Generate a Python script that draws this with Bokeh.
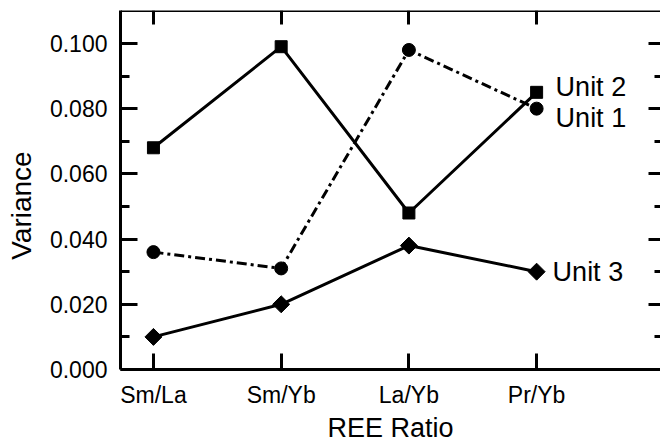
import math
from bokeh.plotting import figure
from bokeh.models import LinearAxis, FixedTicker, Range1d, CustomJSTickFormatter
from bokeh.core.properties import value
from bokeh.embed import file_html
from bokeh.resources import INLINE

categories = ["Sm/La", "Sm/Yb", "La/Yb", "Pr/Yb"]
unit1 = [0.036, 0.031, 0.098, 0.080]
unit2 = [0.068, 0.099, 0.048, 0.085]
unit3 = [0.010, 0.020, 0.038, 0.030]
y_ticks = [0.000, 0.020, 0.040, 0.060, 0.080, 0.100]
y_minor = [0.010, 0.030, 0.050, 0.070, 0.090]
series_names = ["Unit 2", "Unit 1", "Unit 3"]
x_title = "REE Ratio"
y_title = "Variance"

xs = list(range(len(categories)))
FONT = "Liberation Sans"
X0, X1 = -0.258, 3.970
Y0, Y1 = 0.0, 0.1101

p = figure(width=660, height=445, output_backend="svg", toolbar_location=None,
           x_range=Range1d(X0, X1), y_range=Range1d(Y0, Y1),
           x_axis_location=None, y_axis_location=None,
           min_border_left=120, min_border_right=0, min_border_top=10, min_border_bottom=74)
p.xgrid.visible = False
p.ygrid.visible = False
p.outline_line_color = None
p.background_fill_color = "white"
p.border_fill_color = "white"

def style_axis(ax, tin, minor_in, width=3):
    ax.axis_line_width = width
    ax.axis_line_color = "black"
    ax.major_tick_line_width = width
    ax.minor_tick_line_width = width
    ax.major_tick_in = tin
    ax.major_tick_out = 0
    ax.minor_tick_in = minor_in
    ax.minor_tick_out = 0
    ax.major_tick_line_color = "black"
    ax.minor_tick_line_color = "black"
    ax.major_label_text_color = "black"
    ax.axis_label_text_color = "black"

blank = CustomJSTickFormatter(code="return ''")
xtick = FixedTicker(ticks=xs)
labels = {i: c for i, c in enumerate(categories)}

bottom = LinearAxis(ticker=xtick, major_label_overrides=labels, axis_label=x_title)
style_axis(bottom, 16, 0)
bottom.minor_tick_line_color = None
bottom.major_label_text_font = FONT
bottom.major_label_text_font_size = "23px"
bottom.major_label_standoff = 12
bottom.axis_label_text_font = FONT
bottom.axis_label_text_font_size = "27px"
bottom.axis_label_text_font_style = "normal"
bottom.axis_label_standoff = 2
p.add_layout(bottom, "below")

top = LinearAxis(ticker=xtick, formatter=blank, fixed_location=Y1)
style_axis(top, 14, 0)
top.minor_tick_line_color = None
top.major_label_text_font_size = "0px"
p.add_layout(top, "above")

ytick = FixedTicker(ticks=y_ticks, minor_ticks=y_minor)
left = LinearAxis(ticker=ytick, axis_label=y_title + "\u00a0" * 4,
                  major_label_overrides={t: "%.3f" % t for t in y_ticks})
style_axis(left, 17, 9)
left.major_label_text_font = FONT
left.major_label_text_font_size = "23px"
left.major_label_standoff = 13
left.axis_label_text_font = FONT
left.axis_label_text_font_size = "28px"
left.axis_label_text_font_style = "normal"
left.axis_label_standoff = 10
p.add_layout(left, "left")

right = LinearAxis(ticker=ytick, formatter=blank, fixed_location=X1)
style_axis(right, 12, 6)
right.axis_line_color = None
right.major_label_text_font_size = "0px"
p.add_layout(right, "right")

p.line(xs, unit2, line_color="black", line_width=3)
p.line(xs, unit1, line_color="black", line_width=3, line_dash="10 4 3 4")
p.line(xs, unit3, line_color="black", line_width=3)
p.scatter(xs, unit2, marker="square", size=12, color="black")
p.scatter(xs, unit1, marker="circle", size=13, color="black")
p.scatter(xs, unit3, marker="square", size=12, angle=math.pi / 4, color="black")

last = len(categories) - 1
last_vals = [unit2[last], unit1[last], unit3[last]]
p.text(x=[last] * 3, y=last_vals, text=series_names, x_offset=[19, 19, 16],
       y_offset=[-5.5, 9.5, 0], text_font=value(FONT), text_font_size="27px",
       text_baseline="middle", text_align="left", text_color="black")

open("out.html", "w").write(file_html(p, INLINE))
